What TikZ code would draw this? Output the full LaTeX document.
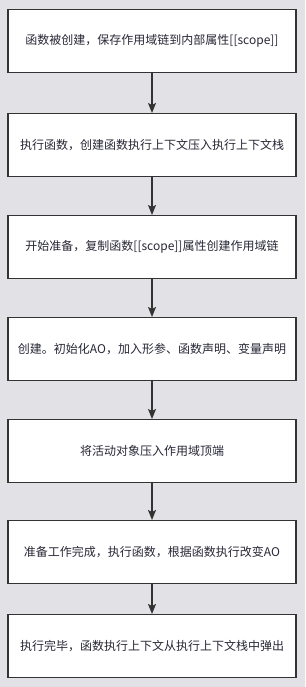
\documentclass[tikz,border=0pt]{standalone}
\usepackage{fontspec}
\newfontfamily\cjk{Noto Sans CJK SC}
\usetikzlibrary{arrows.meta}
\definecolor{bgc}{RGB}{226,226,230}
\definecolor{ink}{RGB}{51,51,51}
\definecolor{txt}{RGB}{40,40,55}
\begin{document}
\begin{tikzpicture}[x=1pt,y=-1pt,
  stepbox/.style={draw=ink,line width=1.3pt,fill=white,minimum width=288pt,minimum height=63pt,anchor=north,inner sep=0pt,font=\cjk\fontsize{12}{14}\selectfont,text=txt},
  flow/.style={draw=ink,line width=1.3pt,-{Stealth[length=10pt,width=8pt,inset=2pt]}}]
\fill[bgc] (0,0) rectangle (305,687);
\useasboundingbox (0,0) rectangle (305,687);
\node[stepbox] (b1) at (152,9) {函数被创建，保存作用域链到内部属性[[scope]]};
\node[stepbox] (b2) at (152,113) {执行函数，创建函数执行上下文压入执行上下文栈};
\node[stepbox] (b3) at (152,215) {开始准备，复制函数[[scope]]属性创建作用域链};
\node[stepbox] (b4) at (152,317) {创建。初始化AO，加入形参、函数声明、变量声明};
\node[stepbox] (b5) at (152,419) {将活动对象压入作用域顶端};
\node[stepbox] (b6) at (152,520) {准备工作完成，执行函数，根据函数执行改变AO};
\node[stepbox] (b7) at (152,614) {执行完毕，函数执行上下文从执行上下文栈中弹出};
\draw[flow] (b1.south) -- (b2.north);
\draw[flow] (b2.south) -- (b3.north);
\draw[flow] (b3.south) -- (b4.north);
\draw[flow] (b4.south) -- (b5.north);
\draw[flow] (b5.south) -- (b6.north);
\draw[flow] (b6.south) -- (b7.north);
\end{tikzpicture}
\end{document}
